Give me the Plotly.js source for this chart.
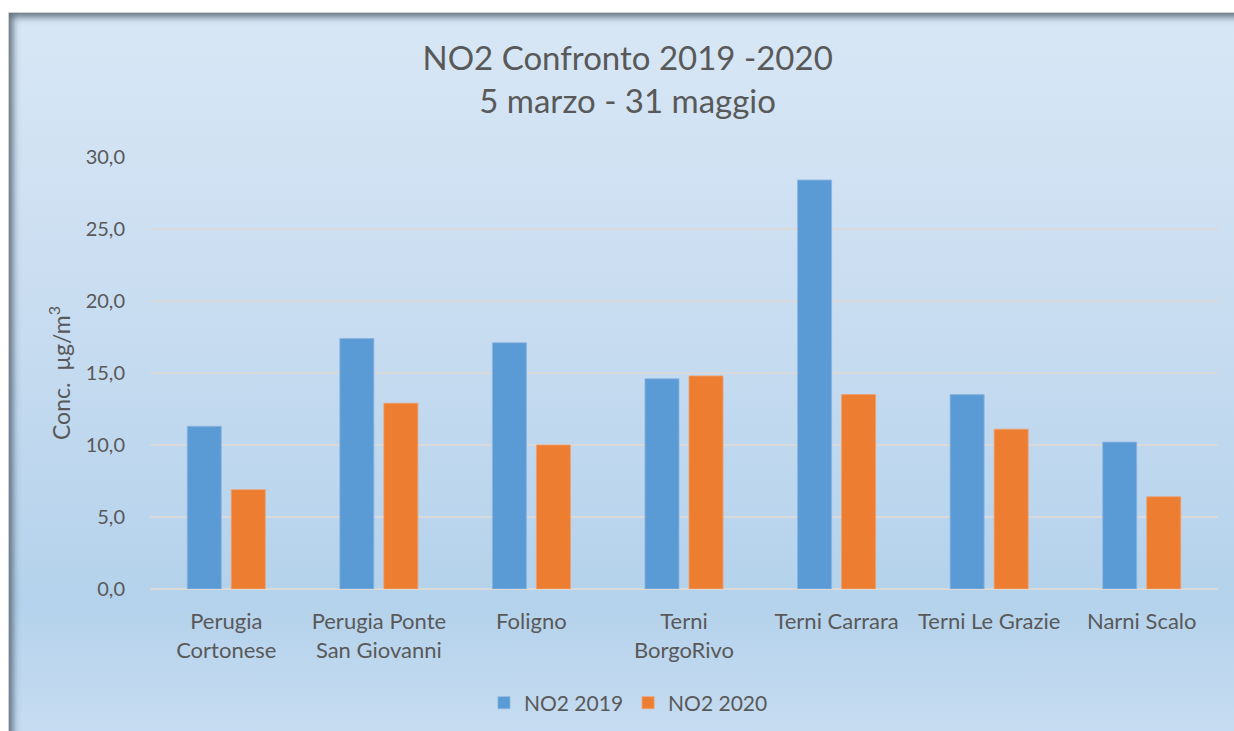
<!DOCTYPE html>
<html>
<head>
<meta charset="utf-8">
<script src="https://cdn.plot.ly/plotly-3.0.1.min.js"></script>
<style>
html, body { margin: 0; padding: 0; background: #ffffff; width: 1234px; height: 731px; overflow: hidden; }
#frame {
  position: absolute; left: 8px; top: 12px; width: 1226px; height: 719px;
  border-left: 1px solid #d0d0d0; border-top: 1px solid #d0d0d0;
  background: linear-gradient(to bottom, #d8e7f5 0%, #c9ddf1 40%, #b4d2eb 82%, #c6dcf1 100%);
  box-shadow: inset 7px 7px 7px -3px rgba(80,95,110,0.85);
}
#chart { position: absolute; left: 9px; top: 13px; width: 1225px; height: 718px; }
</style>
</head>
<body>
<div id="frame"></div>
<div id="chart"></div>
<script>
const categories = ["Perugia<br>Cortonese", "Perugia Ponte<br>San Giovanni", "Foligno", "Terni<br>BorgoRivo", "Terni Carrara", "Terni Le Grazie", "Narni Scalo"];
const no2_2019 = [11.3, 17.4, 17.1, 14.6, 28.4, 13.5, 10.2];
const no2_2020 = [6.9, 12.9, 10.0, 14.8, 13.5, 11.1, 6.4];
const seriesNames = ["NO2 2019", "NO2 2020"];
const yTicks = [0, 5, 10, 15, 20, 25, 30];

const font = "Lato, 'Open Sans', sans-serif";
const textColor = "#595959";

const traces = [
  { type: "bar", name: seriesNames[0], x: categories, y: no2_2019,
    marker: { color: "#5b9bd5", line: { color: "rgba(140,180,225,0.8)", width: 1 } }, hoverinfo: "y" },
  { type: "bar", name: seriesNames[1], x: categories, y: no2_2020,
    marker: { color: "#ed7d31", line: { color: "rgba(240,160,110,0.8)", width: 1 } }, hoverinfo: "y" }
];

const layout = {
  width: 1225, height: 718,
  paper_bgcolor: "rgba(0,0,0,0)", plot_bgcolor: "rgba(0,0,0,0)",
  separators: ", ",
  font: { family: font, color: textColor, size: 21 },
  margin: { l: 141, r: 16, t: 144, b: 142, autoexpand: false },
  title: {
    text: "NO2 Confronto 2019 -2020<br>5 marzo - 31 maggio",
    font: { family: font, size: 33, color: textColor, lineposition: "none" },
    x: 0.505, xanchor: "center", xref: "container",
    y: 0.921, yanchor: "middle", yref: "container"
  },
  barmode: "group", bargap: 0.423, bargroupgap: 0.227,
  xaxis: {
    type: "category", showgrid: false, zeroline: false, showline: false,
    ticks: "outside", ticklen: 13, tickcolor: "rgba(0,0,0,0)",
    tickfont: { family: font, size: 22, color: textColor },
    automargin: false
  },
  yaxis: {
    range: [0, 30], tickvals: yTicks, tickformat: ".1f",
    showgrid: true, gridcolor: "#d9d9d9", gridwidth: 1.5,
    zeroline: true, zerolinecolor: "#d9d9d9", zerolinewidth: 1.5,
    showline: false, ticks: "outside", ticklen: 20, tickcolor: "rgba(0,0,0,0)",
    tickfont: { family: font, size: 20, color: textColor },
    title: { text: "Conc.  µg/m<sup>3</sup>", font: { family: font, size: 23, color: textColor }, standoff: 8 },
    automargin: false
  },
  legend: {
    orientation: "h", x: 0.448, xanchor: "center", y: -0.264, yanchor: "middle",
    font: { family: font, size: 21, color: textColor },
    bgcolor: "rgba(0,0,0,0)", itemwidth: 30, traceorder: "normal"
  },
  showlegend: true
};

Plotly.newPlot("chart", traces, layout, { displayModeBar: false, staticPlot: true });
</script>
</body>
</html>
